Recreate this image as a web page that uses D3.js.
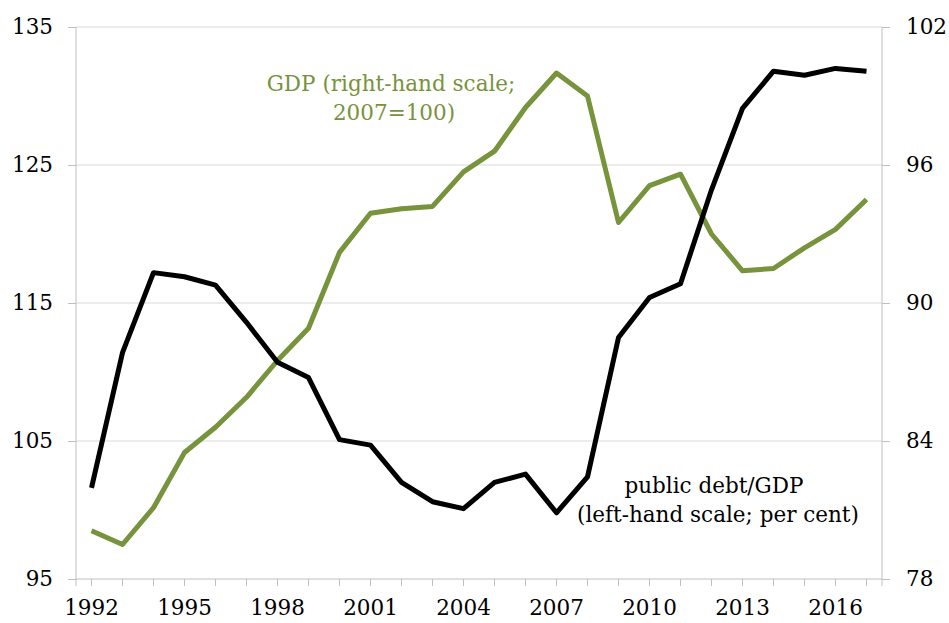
<!DOCTYPE html>
<html>
<head>
<meta charset="utf-8">
<script src="https://cdn.jsdelivr.net/npm/d3@7"></script>
<style>
  body { margin: 0; background: #fff; }
  svg text { font-family: "DejaVu Serif", serif; }
</style>
</head>
<body>
<div id="chart-area"></div>
<script>
var years = d3.range(1992, 2018);

// public debt / GDP, per cent (left-hand scale)
var debt = [101.6, 111.4, 117.2, 116.9, 116.3, 113.6, 110.7, 109.6, 105.1, 104.7,
            102.0, 100.6, 100.1, 102.0, 102.6, 99.8, 102.4, 112.5, 115.4, 116.4,
            123.2, 129.1, 131.8, 131.5, 132.0, 131.8];

// GDP, 2007 = 100 (right-hand scale)
var gdp = [80.1, 79.5, 81.1, 83.5, 84.6, 85.9, 87.5, 88.9, 92.2, 93.9,
           94.1, 94.2, 95.7, 96.6, 98.5, 100.0, 99.0, 93.5, 95.1, 95.6,
           93.0, 91.4, 91.5, 92.4, 93.2, 94.5];

var leftTicks = [95, 105, 115, 125, 135];
var rightTicks = [78, 84, 90, 96, 102];
var xLabels = [1992, 1995, 1998, 2001, 2004, 2007, 2010, 2013, 2016];

var width = 949,
    height = 623,
    margin = {top: 27, right: 67, bottom: 44, left: 76};

var svg = d3.select("#chart-area")
  .append("svg")
    .attr("width", width)
    .attr("height", height);

var x = d3.scaleBand()
    .domain(years)
    .range([margin.left, width - margin.right]);

var yLeft = d3.scaleLinear()
    .domain([95, 135])
    .range([height - margin.bottom, margin.top]);

var yRight = d3.scaleLinear()
    .domain([78, 102])
    .range([height - margin.bottom, margin.top]);

var cx = function(yr) { return x(yr) + x.bandwidth() / 2; };

// gridlines
svg.append("g")
  .selectAll("line")
  .data(leftTicks.slice(1))
  .enter().append("line")
    .attr("x1", margin.left)
    .attr("x2", width - margin.right)
    .attr("y1", function(d) { return yLeft(d); })
    .attr("y2", function(d) { return yLeft(d); })
    .attr("stroke", "#d9d9d9")
    .attr("stroke-width", 1);

// left axis
var gl = svg.append("g")
    .attr("transform", "translate(" + margin.left + ",0)")
    .call(d3.axisLeft(yLeft).tickValues(leftTicks).tickSize(8).tickPadding(15));

// right axis
var gr = svg.append("g")
    .attr("transform", "translate(" + (width - margin.right) + ",0)")
    .call(d3.axisRight(yRight).tickValues(rightTicks).tickSize(8).tickPadding(16));

// bottom axis: tick at every year, labels every third year
var gb = svg.append("g")
    .attr("transform", "translate(0," + (height - margin.bottom) + ")")
    .call(d3.axisBottom(x).tickSize(7).tickPadding(14).tickSizeOuter(0)
      .tickFormat(function(d) { return xLabels.indexOf(d) >= 0 ? d : ""; }));

gb.select(".domain").remove();
gb.append("line")
    .attr("x1", margin.left).attr("x2", width - margin.right)
    .attr("stroke", "#bfbfbf");
// tick at axis ends
gb.selectAll(".endtick")
  .data([margin.left, width - margin.right])
  .enter().append("line")
    .attr("x1", function(d) { return d; })
    .attr("x2", function(d) { return d; })
    .attr("y2", 7)
    .attr("stroke", "#bfbfbf");

[gl, gr, gb].forEach(function(g) {
  g.selectAll(".domain").attr("stroke", "#bfbfbf");
  g.selectAll(".tick line").attr("stroke", "#bfbfbf");
  g.selectAll(".tick text")
    .attr("fill", "#000")
    .style("font-size", "21.5px")
    .style("font-family", "DejaVu Serif, serif");
});
gl.select(".domain").attr("d", "M0," + margin.top + "V" + (height - margin.bottom));
gr.select(".domain").attr("d", "M0," + margin.top + "V" + (height - margin.bottom));

// lines
var debtLine = d3.line()
    .x(function(d, i) { return cx(years[i]); })
    .y(function(d) { return yLeft(d); });

var gdpLine = d3.line()
    .x(function(d, i) { return cx(years[i]); })
    .y(function(d) { return yRight(d); });

svg.append("path")
    .datum(gdp)
    .attr("d", gdpLine)
    .attr("fill", "none")
    .attr("stroke", "#77933c")
    .attr("stroke-width", 5)
    .attr("stroke-linejoin", "round");

svg.append("path")
    .datum(debt)
    .attr("d", debtLine)
    .attr("fill", "none")
    .attr("stroke", "#000")
    .attr("stroke-width", 5)
    .attr("stroke-linejoin", "round");

// annotations
var gdpLabel = svg.append("text")
    .attr("text-anchor", "middle")
    .attr("fill", "#77933c")
    .style("font-size", "21.5px");
gdpLabel.append("tspan").attr("x", 391).attr("y", 91).text("GDP (right-hand scale;");
gdpLabel.append("tspan").attr("x", 394).attr("y", 120).text("2007=100)");

var debtLabel = svg.append("text")
    .attr("text-anchor", "middle")
    .attr("fill", "#000")
    .style("font-size", "21.5px");
debtLabel.append("tspan").attr("x", 714).attr("y", 493).text("public debt/GDP");
debtLabel.append("tspan").attr("x", 718).attr("y", 522).text("(left-hand scale; per cent)");
</script>
</body>
</html>
